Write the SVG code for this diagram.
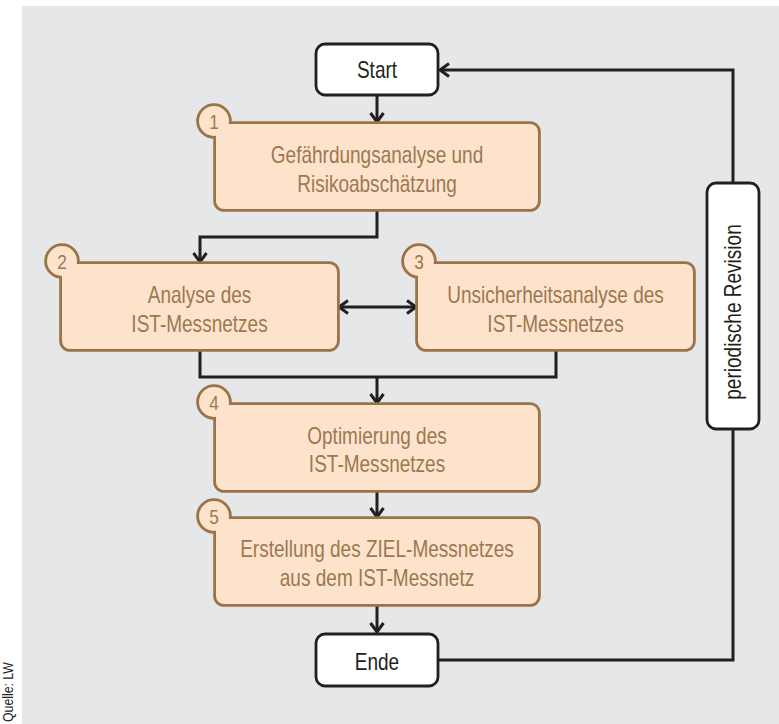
<svg xmlns="http://www.w3.org/2000/svg" width="779" height="724" viewBox="0 0 779 724">
<style>
.bg{fill:#e6e7e8}
.ol{fill:#9a7449;stroke:#9a7449;stroke-width:5.6}
.fl{fill:#fde3cc}
.term{fill:#ffffff;stroke:#231f20;stroke-width:2.8}
.t{font-family:"Liberation Sans",Arial,sans-serif;font-size:23.2px;text-anchor:middle}
.tb{fill:#9c7850}
.td{fill:#231f20}
.num{font-family:"Liberation Sans",Arial,sans-serif;font-size:21px;text-anchor:middle;fill:#9c7850}
.c{fill:none;stroke:#231f20;stroke-width:3}
.src{font-family:"Liberation Sans",Arial,sans-serif;font-size:15px;fill:#231f20}
</style>
<defs>
<marker id="ah" markerUnits="userSpaceOnUse" markerWidth="20" markerHeight="20" viewBox="-12 -10 14 20" refX="0" refY="0" orient="auto-start-reverse">
<path d="M-9,-6.5 L0,0 L-9,6.5" fill="none" stroke="#231f20" stroke-width="3"/>
</marker>
</defs>
<rect class="bg" x="22" y="6" width="757" height="718"/>
<text class="src" transform="translate(13,722) rotate(-90) scale(0.82,1)">Quelle: LW</text>

<g id="connectors">
<path class="c" d="M377,95 V122" marker-end="url(#ah)"/>
<path class="c" d="M377,210 V237 H200 V262" marker-end="url(#ah)"/>
<path class="c" d="M339,307 H416" marker-start="url(#ah)" marker-end="url(#ah)"/>
<path class="c" d="M200,350 V377 H556 V350"/>
<path class="c" d="M377,377 V403" marker-end="url(#ah)"/>
<path class="c" d="M377,491 V517" marker-end="url(#ah)"/>
<path class="c" d="M377,605 V632" marker-end="url(#ah)"/>
<path class="c" d="M439,660 H733 V70 H440" marker-end="url(#ah)"/>
</g>

<g id="start">
<rect class="term" x="316" y="44" width="122" height="51" rx="9"/>
<text class="t td" transform="translate(377,78) scale(0.82,1)">Start</text>
</g>

<g id="step1">
<circle class="ol" cx="214" cy="121" r="15"/>
<rect class="ol" x="216" y="124" width="322" height="85" rx="8"/>
<circle class="fl" cx="214" cy="121" r="15"/>
<rect class="fl" x="216" y="124" width="322" height="85" rx="8"/>
<text class="num" transform="translate(214,129) scale(0.82,1)">1</text>
<text class="t tb" transform="translate(377,162.5) scale(0.82,1)">Gefährdungsanalyse und</text>
<text class="t tb" transform="translate(377,191.5) scale(0.82,1)">Risikoabschätzung</text>
</g>

<g id="step2">
<circle class="ol" cx="62" cy="261" r="15"/>
<rect class="ol" x="62" y="264" width="275" height="85" rx="8"/>
<circle class="fl" cx="62" cy="261" r="15"/>
<rect class="fl" x="62" y="264" width="275" height="85" rx="8"/>
<text class="num" transform="translate(62,269) scale(0.82,1)">2</text>
<text class="t tb" transform="translate(199.5,303) scale(0.82,1)">Analyse des</text>
<text class="t tb" transform="translate(199.5,332) scale(0.82,1)">IST-Messnetzes</text>
</g>

<g id="step3">
<circle class="ol" cx="419" cy="261" r="15"/>
<rect class="ol" x="418" y="264" width="275" height="85" rx="8"/>
<circle class="fl" cx="419" cy="261" r="15"/>
<rect class="fl" x="418" y="264" width="275" height="85" rx="8"/>
<text class="num" transform="translate(419,269) scale(0.82,1)">3</text>
<text class="t tb" transform="translate(555.5,303) scale(0.82,1)">Unsicherheitsanalyse des</text>
<text class="t tb" transform="translate(555.5,332) scale(0.82,1)">IST-Messnetzes</text>
</g>

<g id="step4">
<circle class="ol" cx="214" cy="402" r="15"/>
<rect class="ol" x="216" y="405" width="322" height="85" rx="8"/>
<circle class="fl" cx="214" cy="402" r="15"/>
<rect class="fl" x="216" y="405" width="322" height="85" rx="8"/>
<text class="num" transform="translate(214,410) scale(0.82,1)">4</text>
<text class="t tb" transform="translate(377,443.5) scale(0.82,1)">Optimierung des</text>
<text class="t tb" transform="translate(377,472) scale(0.82,1)">IST-Messnetzes</text>
</g>

<g id="step5">
<circle class="ol" cx="214" cy="516" r="15"/>
<rect class="ol" x="216" y="519" width="322" height="85" rx="8"/>
<circle class="fl" cx="214" cy="516" r="15"/>
<rect class="fl" x="216" y="519" width="322" height="85" rx="8"/>
<text class="num" transform="translate(214,524) scale(0.82,1)">5</text>
<text class="t tb" transform="translate(377,557) scale(0.82,1)">Erstellung des ZIEL-Messnetzes</text>
<text class="t tb" transform="translate(377,585.5) scale(0.82,1)">aus dem IST-Messnetz</text>
</g>

<g id="ende">
<rect class="term" x="316" y="634" width="122" height="52" rx="9"/>
<text class="t td" transform="translate(377,669.5) scale(0.82,1)">Ende</text>
</g>

<g id="revision">
<rect class="term" x="707" y="183" width="52" height="246" rx="9"/>
<text class="t td" transform="translate(741,312) rotate(-90) scale(0.82,1)">periodische Revision</text>
</g>
</svg>
